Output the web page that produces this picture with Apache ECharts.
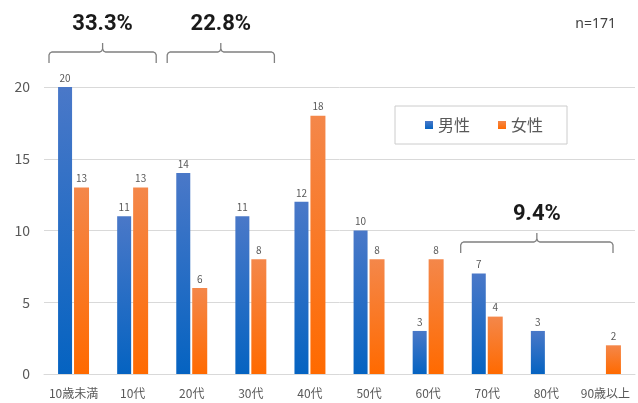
<!DOCTYPE html>
<html><head><meta charset="utf-8">
<script src="https://cdn.jsdelivr.net/npm/echarts@6/dist/echarts.min.js"></script>
<style>html,body{margin:0;padding:0;background:#fff}#c{width:638px;height:403px}</style>
</head><body><div id="c"></div>
<script>
const categories = ['10歳未満','10代','20代','30代','40代','50代','60代','70代','80代','90歳以上'];
const male = [20,11,14,11,12,10,3,7,3,null];
const female = [13,13,6,8,18,8,8,4,null,2];
const yTicks = [0,5,10,15,20];
const groups = [
  {label:'33.3%', from:0, to:1},
  {label:'22.8%', from:2, to:3},
  {label:'9.4%', from:7, to:9}
];
const FONT = '"Noto Sans CJK JP","Noto Sans",sans-serif';
const chart = echarts.init(document.getElementById('c'));
function grad(top, bottom){
  return new echarts.graphic.LinearGradient(0,0,0,1,[{offset:0,color:top},{offset:1,color:bottom}]);
}
const lbl = {show:true, position:'top', distance:4, color:'#595959', fontSize:10, fontFamily:FONT};
chart.setOption({
  animation:false,
  grid:{left:44, right:3, top:87, bottom:29, containLabel:false},
  legend:{
    data:['男性','女性'], left:395, top:106,
    padding:[11,24,11,30], itemGap:28, itemWidth:8, itemHeight:8, icon:'rect',
    borderColor:'#cccccc', borderWidth:1, backgroundColor:'#fff',
    textStyle:{color:'#595959', fontSize:16, fontFamily:FONT}
  },
  xAxis:{type:'category', data:categories,
    axisLine:{lineStyle:{color:'#d9d9d9'}}, axisTick:{show:false},
    axisLabel:{color:'#595959', fontSize:12, fontFamily:FONT, margin:13, interval:0}},
  yAxis:{type:'value', min:yTicks[0], max:yTicks[yTicks.length-1], interval:5,
    axisLine:{show:false}, axisTick:{show:false},
    splitLine:{lineStyle:{color:'#d9d9d9'}},
    axisLabel:{color:'#595959', fontSize:14, fontFamily:FONT, margin:14}},
  series:[
    {name:'男性', type:'bar', data:male, barWidth:14, barGap:'14%',
     itemStyle:{color:grad('#4a78c8','#0563c1')}, label:lbl},
    {name:'女性', type:'bar', data:female, barWidth:15,
     itemStyle:{color:grad('#f4874a','#ff6a00')}, label:lbl}
  ]
});
function catEdge(i, side){
  const c = chart.convertToPixel({xAxisIndex:0}, i);
  const w = chart.convertToPixel({xAxisIndex:0}, 1) - chart.convertToPixel({xAxisIndex:0}, 0);
  return c + side * w / 2;
}
const tops = [52, 52, 242];
const g = [];
groups.forEach((gr, k) => {
  let x1 = catEdge(gr.from, -1) + 5;
  let x2 = catEdge(gr.to, 1) - 6;
  if (k === 2) { x1 = catEdge(gr.from, -1) + 3; x2 = catEdge(gr.to, 1) - 22; }
  const yh = tops[k];
  const cx = (x1 + x2) / 2;
  const r = 3;
  const st = {fill:null, stroke:'#808080', lineWidth:1.3};
  g.push({type:'polyline', shape:{points:[[x1,yh+11],[x1,yh+r],[x1+1,yh+1],[x1+r,yh],[cx-r,yh],[cx-1,yh-1],[cx,yh-r],[cx,yh-9]]}, style:st, z:10});
  g.push({type:'polyline', shape:{points:[[cx,yh-r],[cx+1,yh-1],[cx+r,yh],[x2-r,yh],[x2-1,yh+1],[x2,yh+r],[x2,yh+11]]}, style:st, z:10});
  g.push({type:'text', x:cx, y:yh-28, style:{text:gr.label, fill:'#1a1a1a', font:'bold 22px Roboto, "Noto Sans", sans-serif', textAlign:'center', textVerticalAlign:'middle'}, z:10});
});
g.push({type:'text', right:22, top:17, style:{text:'n=171', fill:'#404040', font:'14px "Noto Sans", sans-serif'}});
chart.setOption({graphic:g});
</script></body></html>
